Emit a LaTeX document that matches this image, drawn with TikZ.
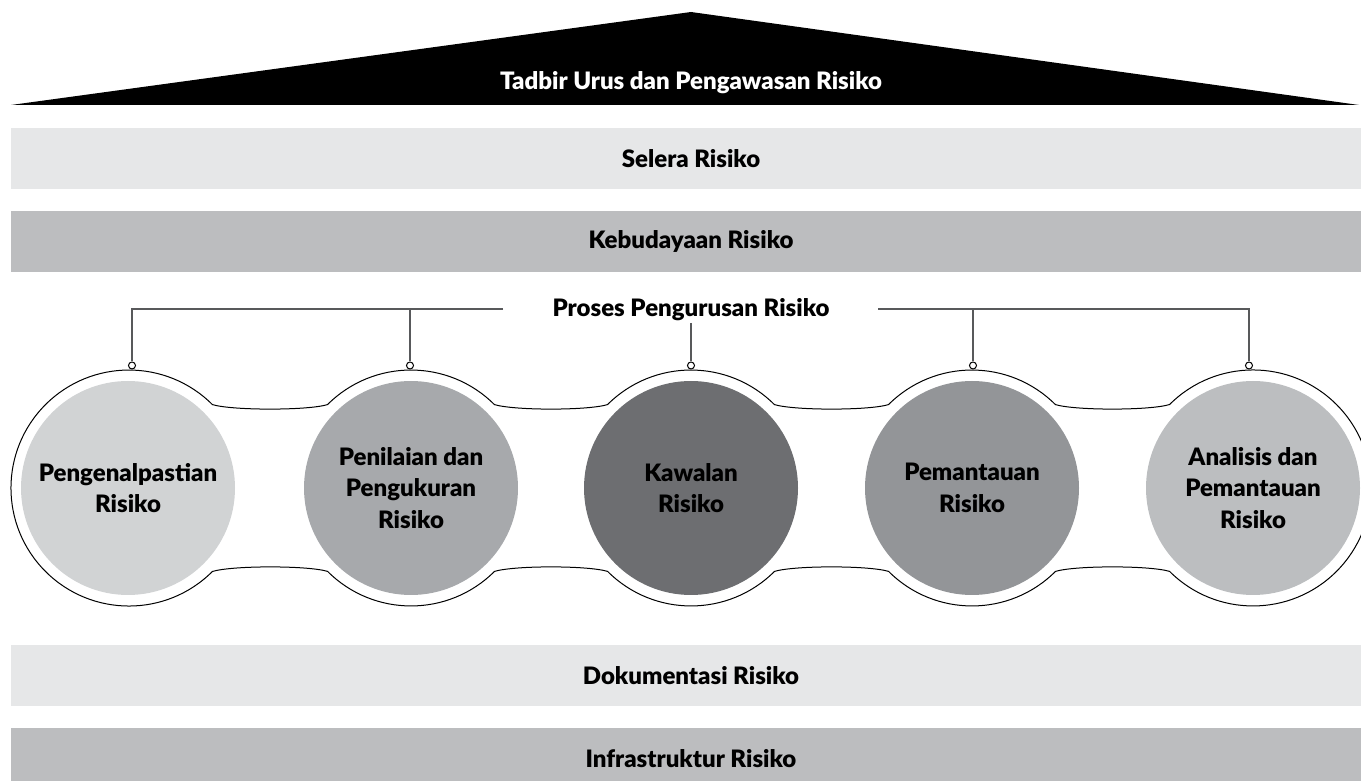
\documentclass[tikz,border=0pt]{standalone}
\usepackage{fontspec}
\setmainfont{Lato}[BoldFont={Lato Black}]
\usepackage{xcolor}
\usetikzlibrary{calc,positioning}
\definecolor{RiskBandLight}{HTML}{E6E7E8}
\definecolor{RiskBandDark}{HTML}{BCBDBF}
\definecolor{RiskStageA}{HTML}{D1D3D4}
\definecolor{RiskStageB}{HTML}{A7A9AC}
\definecolor{RiskStageC}{HTML}{6D6E71}
\definecolor{RiskStageD}{HTML}{939598}
\definecolor{RiskStageE}{HTML}{BCBEC0}
\definecolor{RiskLine}{HTML}{58595B}

\begin{document}
\begin{tikzpicture}[x=1pt,y=1pt,
    bandtext/.style={text=black,font=\bfseries\fontsize{24}{28}\selectfont},
    stage/.style={circle,inner sep=0pt,minimum size=214pt,align=center,
      text=black,font=\bfseries\fontsize{24}{31.5}\selectfont},
    hook/.style={circle,draw=black,fill=white,line width=1pt,
      inner sep=0pt,minimum size=7pt},
    bracket/.style={RiskLine,line width=1.2pt}]
        \useasboundingbox (0,0) rectangle (1361,780);
        \clip (0,0) rectangle (1361,780);

        % roof
        \fill[black] (11,675) -- (691,768) -- (1359,675) -- cycle;
        \node[bandtext,text=white] (tadbir) at (691,697) {Tadbir Urus dan Pengawasan Risiko};

        % upper bands
        \fill[RiskBandLight] (11,591) rectangle (1361,652);
        \node[bandtext] (selera) at (691,621.5) {Selera Risiko};
        \fill[RiskBandDark] (11,508) rectangle (1361,569);
        \node[bandtext] (budaya) at (691,538.5) {Kebudayaan Risiko};

        % lower bands
        \fill[RiskBandLight] (11,74) rectangle (1361,135);
        \node[bandtext] (dokumen) at (691,104.5) {Dokumentasi Risiko};
        \fill[RiskBandDark] (11,-9) rectangle (1361,52);
        \node[bandtext] (infra) at (691,21.5) {Infrastruktur Risiko};

        % outline round the five stages
        \draw[black,line width=1pt]
          (212.4,375.4) arc[start angle=45,end angle=315,radius=118]
          .. controls (232.4,214.6) and (307.6,214.6) .. (327.6,208.6)
          arc[start angle=225,end angle=315,radius=118]
          .. controls (514.4,214.6) and (587.6,214.6) .. (607.6,208.6)
          arc[start angle=225,end angle=315,radius=118]
          .. controls (794.4,214.6) and (868.6,214.6) .. (888.6,208.6)
          arc[start angle=225,end angle=315,radius=118]
          .. controls (1075.4,214.6) and (1149.6,214.6) .. (1169.6,208.6)
          arc[start angle=225,end angle=495,radius=118]
          .. controls (1149.6,369.4) and (1075.4,369.4) .. (1055.4,375.4)
          arc[start angle=45,end angle=135,radius=118]
          .. controls (868.6,369.4) and (794.4,369.4) .. (774.4,375.4)
          arc[start angle=45,end angle=135,radius=118]
          .. controls (587.6,369.4) and (514.4,369.4) .. (494.4,375.4)
          arc[start angle=45,end angle=135,radius=118]
          .. controls (307.6,369.4) and (232.4,369.4) .. (212.4,375.4) -- cycle;

        % stages
        \node[stage,fill=RiskStageA] (kenal) at (128,292) {Pengenalpastian\\Risiko};
        \node[stage,fill=RiskStageB] (nilai) at (411,292) {Penilaian dan\\Pengukuran\\Risiko};
        \node[stage,fill=RiskStageC] (kawal) at (691,292) {Kawalan\\Risiko};
        \node[stage,fill=RiskStageD] (pantau) at (972,292) {Pemantauan\\Risiko};
        \node[stage,fill=RiskStageE] (analisis) at (1253,292) {Analisis dan\\Pemantauan\\Risiko};

        % hooks on the outline
        \node[hook] (hkenal) at (132,414.5) {};
        \node[hook] (hnilai) at (410,414.5) {};
        \node[hook] (hkawal) at (691,414.5) {};
        \node[hook] (hpantau) at (973,414.5) {};
        \node[hook] (hanalisis) at (1249,414.5) {};

        % process heading and bracket
        \node[bandtext,anchor=base] (proses) at (691,463) {Proses Pengurusan Risiko};
        \coordinate (bleft) at (503,471);
        \coordinate (bright) at (878,471);
        \draw[bracket] (bleft) -| (hkenal.north);
        \draw[bracket] (hnilai.north) -- (hnilai.north |- bleft);
        \draw[bracket] (bright) -| (hanalisis.north);
        \draw[bracket] (hpantau.north) -- (hpantau.north |- bright);
        \draw[bracket] (proses.south |- 0,457) -- (hkawal.north);
      \end{tikzpicture}
\end{document}
